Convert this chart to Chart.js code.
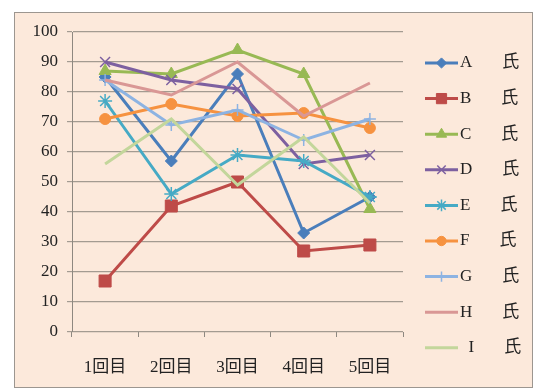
<!DOCTYPE html>
<html><head><meta charset="utf-8">
<script src="https://cdn.jsdelivr.net/npm/chart.js@4/dist/chart.umd.min.js"></script>
<style>
html,body{margin:0;padding:0;background:#fff;}
#frame{position:absolute;left:14px;top:12px;width:519px;height:376px;box-sizing:border-box;border:1px solid #9c9690;background:#fce9db;}
#wrap{position:absolute;left:14px;top:12px;width:519px;height:376px;}
</style></head>
<body>
<div id="frame"></div>
<div id="wrap"><canvas id="c" width="519" height="376"></canvas></div>
<script>
const categories = ['1回目','2回目','3回目','4回目','5回目'];
const names = ['A','B','C','D','E','F','G','H','  I'];
const suffix = '氏';
const seriesA = [85, 57, 86, 33, 45];
const seriesB = [17, 42, 50, 27, 29];
const seriesC = [87, 86, 94, 86, 41];
const seriesD = [90, 84, 81, 56, 59];
const seriesE = [77, 46, 59, 57, 45];
const seriesF = [71, 76, 72, 73, 68];
const seriesG = [84, 69, 74, 64, 71];
const seriesH = [84, 79, 90, 72, 83];
const seriesI = [56, 71, 49, 65, 43];
const yTicks = [0,10,20,30,40,50,60,70,80,90,100];

const allSeries = [seriesA,seriesB,seriesC,seriesD,seriesE,seriesF,seriesG,seriesH,seriesI];
const colors = ['#4a7ebb','#be4b48','#98b954','#7d60a0','#46aac5','#f69240','#8db3e2','#d99795','#c3d69b'];
const markers = ['rectRot','rect','triangle','crossRot','star','circle','cross',false,false];
const radii = [6,8.5,7,7,7,5.5,6,0,0];

const serif = "'Liberation Serif','Noto Sans CJK JP',serif";

const datasets = allSeries.map((d,i)=>({
  label: names[i],
  data: d,
  borderColor: colors[i],
  backgroundColor: colors[i],
  borderWidth: 3,
  pointStyle: markers[i],
  pointRadius: radii[i],
  pointHoverRadius: radii[i],
  pointBorderWidth: (markers[i]==='crossRot'||markers[i]==='star'||markers[i]==='cross') ? 1.5 : 1,
  pointBorderColor: colors[i],
  pointBackgroundColor: colors[i],
  tension: 0,
  fill: false,
  order: 9 - i
}));

const legendPlugin = {
  id: 'sideLegend',
  afterDraw(chart){
    const ctx = chart.ctx;
    const x0 = 411, x1 = 444, tx = 446;
    const y0 = 51, dy = 35.6;
    chart.data.datasets.forEach((ds,i)=>{
      const y = y0 + i*dy;
      ctx.save();
      ctx.strokeStyle = ds.borderColor;
      ctx.lineWidth = 3;
      ctx.beginPath(); ctx.moveTo(x0,y); ctx.lineTo(x1,y); ctx.stroke();
      if (ds.pointStyle) {
        ctx.fillStyle = ds.pointBackgroundColor;
        ctx.strokeStyle = ds.pointBorderColor;
        ctx.lineWidth = ds.pointBorderWidth;
        Chart.helpers.drawPoint(ctx, {pointStyle: ds.pointStyle, radius: ds.pointRadius*0.85, borderWidth: ds.pointBorderWidth, rotation: 0}, (x0+x1)/2, y);
      }
      ctx.fillStyle = '#222';
      ctx.font = '17px ' + serif;
      ctx.textBaseline = 'middle';
      ctx.textAlign = 'left';
      ctx.fillText(ds.label, tx, y);
      const w = ctx.measureText(ds.label).width;
      ctx.fillText(suffix, tx + w + 30, y);
      ctx.restore();
    });
  }
};

new Chart(document.getElementById('c'), {
  type: 'line',
  data: { labels: categories, datasets },
  options: {
    responsive: false,
    animation: false,
    layout: { padding: { top: 20, right: 130, bottom: 0, left: 0 } },
    plugins: { legend: { display: false }, tooltip: { enabled: false } },
    scales: {
      x: {
        offset: true,
        grid: { display: true, drawOnChartArea: false, drawTicks: true, tickLength: 5, color: '#8e8880', offset: true },
        border: { display: false },
        ticks: { font: { family: serif, size: 17 }, color: '#222', padding: 20, maxRotation: 0 },
        afterFit(s){ s.height = 56; }
      },
      y: {
        min: 0, max: 100,
        afterBuildTicks(s){ s.ticks = yTicks.map(v=>({value:v})); },
        grid: { color: '#a39b91', lineWidth: 1.2, tickLength: 5 },
        border: { display: true, color: '#8e8880', width: 1 },
        ticks: { font: { family: serif, size: 17 }, color: '#222', padding: 9 },
        afterFit(s){ s.width = 58; }
      }
    }
  },
  plugins: [legendPlugin]
});
</script>
</body></html>
